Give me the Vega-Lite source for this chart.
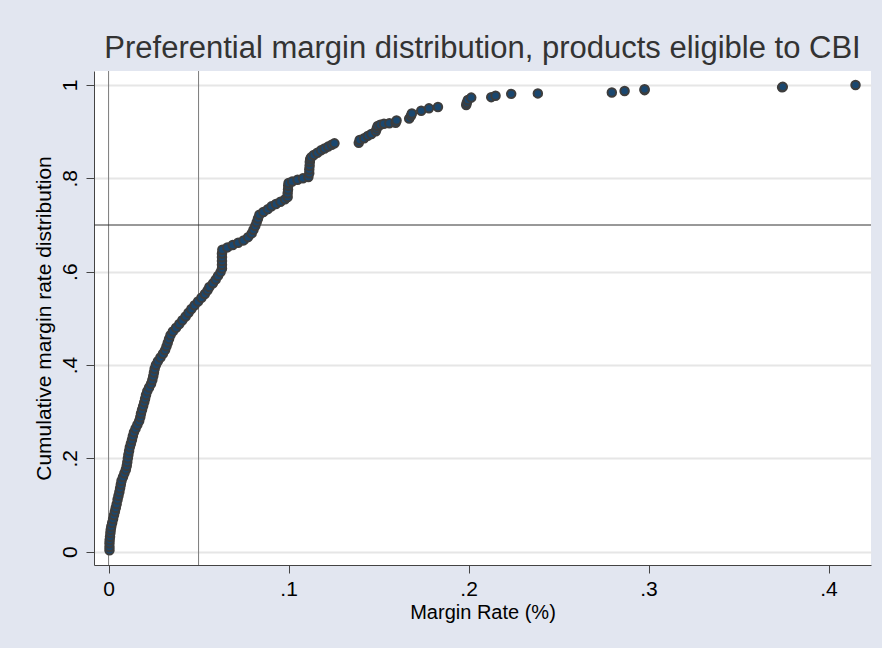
{
  "$schema": "https://vega.github.io/schema/vega-lite/v6.json",
  "autosize": "none",
  "width": 777,
  "height": 494,
  "padding": {"left": 94, "top": 71, "right": 11, "bottom": 83},
  "background": "#e2e6f0",
  "title": {
    "text": "Preferential margin distribution, products eligible to CBI",
    "font": "Liberation Sans",
    "fontSize": 31,
    "fontWeight": "normal",
    "color": "#333333",
    "anchor": "middle",
    "baseline": "alphabetic",
    "offset": -18
  },
  "config": {
    "view": {"fill": "white", "stroke": null},
    "axis": {
      "labelFont": "Liberation Sans",
      "titleFont": "Liberation Sans",
      "labelColor": "#000000",
      "titleColor": "#000000",
      "labelFontSize": 21,
      "titleFontSize": 20,
      "titleFontWeight": "normal",
      "domainColor": "#444444",
      "tickColor": "#444444",
      "tickSize": 8,
      "domainWidth": 1,
      "tickWidth": 1
    }
  },
  "datasets": {
    "cdf": [
      {"margin": 0.0005, "cum": 0.003},
      {"margin": 0.0005, "cum": 0.010},
      {"margin": 0.0005, "cum": 0.018},
      {"margin": 0.0006, "cum": 0.025},
      {"margin": 0.0008, "cum": 0.032},
      {"margin": 0.0010, "cum": 0.040},
      {"margin": 0.0012, "cum": 0.047},
      {"margin": 0.0015, "cum": 0.054},
      {"margin": 0.0020, "cum": 0.062},
      {"margin": 0.0025, "cum": 0.070},
      {"margin": 0.0030, "cum": 0.078},
      {"margin": 0.0035, "cum": 0.086},
      {"margin": 0.0040, "cum": 0.094},
      {"margin": 0.0045, "cum": 0.102},
      {"margin": 0.0050, "cum": 0.112},
      {"margin": 0.0055, "cum": 0.120},
      {"margin": 0.0060, "cum": 0.128},
      {"margin": 0.0064, "cum": 0.136},
      {"margin": 0.0068, "cum": 0.144},
      {"margin": 0.0072, "cum": 0.152},
      {"margin": 0.0080, "cum": 0.160},
      {"margin": 0.0088, "cum": 0.168},
      {"margin": 0.0096, "cum": 0.176},
      {"margin": 0.0101, "cum": 0.184},
      {"margin": 0.0104, "cum": 0.192},
      {"margin": 0.0107, "cum": 0.200},
      {"margin": 0.0110, "cum": 0.208},
      {"margin": 0.0114, "cum": 0.216},
      {"margin": 0.0118, "cum": 0.224},
      {"margin": 0.0124, "cum": 0.232},
      {"margin": 0.0130, "cum": 0.240},
      {"margin": 0.0135, "cum": 0.248},
      {"margin": 0.0141, "cum": 0.256},
      {"margin": 0.0150, "cum": 0.264},
      {"margin": 0.0160, "cum": 0.272},
      {"margin": 0.0170, "cum": 0.280},
      {"margin": 0.0176, "cum": 0.288},
      {"margin": 0.0180, "cum": 0.296},
      {"margin": 0.0186, "cum": 0.304},
      {"margin": 0.0192, "cum": 0.312},
      {"margin": 0.0198, "cum": 0.320},
      {"margin": 0.0203, "cum": 0.328},
      {"margin": 0.0208, "cum": 0.336},
      {"margin": 0.0215, "cum": 0.344},
      {"margin": 0.0225, "cum": 0.352},
      {"margin": 0.0236, "cum": 0.360},
      {"margin": 0.0243, "cum": 0.368},
      {"margin": 0.0248, "cum": 0.376},
      {"margin": 0.0252, "cum": 0.384},
      {"margin": 0.0256, "cum": 0.392},
      {"margin": 0.0263, "cum": 0.400},
      {"margin": 0.0274, "cum": 0.408},
      {"margin": 0.0288, "cum": 0.416},
      {"margin": 0.0302, "cum": 0.424},
      {"margin": 0.0314, "cum": 0.432},
      {"margin": 0.0322, "cum": 0.440},
      {"margin": 0.0329, "cum": 0.448},
      {"margin": 0.0336, "cum": 0.456},
      {"margin": 0.0344, "cum": 0.464},
      {"margin": 0.0357, "cum": 0.472},
      {"margin": 0.0375, "cum": 0.480},
      {"margin": 0.0393, "cum": 0.488},
      {"margin": 0.0410, "cum": 0.496},
      {"margin": 0.0428, "cum": 0.504},
      {"margin": 0.0444, "cum": 0.512},
      {"margin": 0.0460, "cum": 0.520},
      {"margin": 0.0478, "cum": 0.528},
      {"margin": 0.0497, "cum": 0.536},
      {"margin": 0.0516, "cum": 0.544},
      {"margin": 0.0535, "cum": 0.552},
      {"margin": 0.0550, "cum": 0.560},
      {"margin": 0.0560, "cum": 0.567},
      {"margin": 0.0580, "cum": 0.575},
      {"margin": 0.0595, "cum": 0.583},
      {"margin": 0.0608, "cum": 0.591},
      {"margin": 0.0622, "cum": 0.599},
      {"margin": 0.0630, "cum": 0.607},
      {"margin": 0.0630, "cum": 0.615},
      {"margin": 0.0630, "cum": 0.623},
      {"margin": 0.0630, "cum": 0.631},
      {"margin": 0.0630, "cum": 0.639},
      {"margin": 0.0632, "cum": 0.647},
      {"margin": 0.0660, "cum": 0.652},
      {"margin": 0.0690, "cum": 0.657},
      {"margin": 0.0720, "cum": 0.662},
      {"margin": 0.0750, "cum": 0.667},
      {"margin": 0.0775, "cum": 0.674},
      {"margin": 0.0795, "cum": 0.682},
      {"margin": 0.0805, "cum": 0.690},
      {"margin": 0.0815, "cum": 0.698},
      {"margin": 0.0823, "cum": 0.706},
      {"margin": 0.0830, "cum": 0.714},
      {"margin": 0.0838, "cum": 0.722},
      {"margin": 0.0860, "cum": 0.728},
      {"margin": 0.0885, "cum": 0.734},
      {"margin": 0.0905, "cum": 0.740},
      {"margin": 0.0930, "cum": 0.745},
      {"margin": 0.0955, "cum": 0.750},
      {"margin": 0.0980, "cum": 0.755},
      {"margin": 0.0995, "cum": 0.760},
      {"margin": 0.0995, "cum": 0.768},
      {"margin": 0.0997, "cum": 0.776},
      {"margin": 0.0998, "cum": 0.784},
      {"margin": 0.1000, "cum": 0.790},
      {"margin": 0.1020, "cum": 0.793},
      {"margin": 0.1050, "cum": 0.797},
      {"margin": 0.1080, "cum": 0.800},
      {"margin": 0.1110, "cum": 0.803},
      {"margin": 0.1115, "cum": 0.811},
      {"margin": 0.1115, "cum": 0.819},
      {"margin": 0.1117, "cum": 0.827},
      {"margin": 0.1118, "cum": 0.835},
      {"margin": 0.1120, "cum": 0.841},
      {"margin": 0.1125, "cum": 0.845},
      {"margin": 0.1140, "cum": 0.850},
      {"margin": 0.1160, "cum": 0.855},
      {"margin": 0.1180, "cum": 0.860},
      {"margin": 0.1200, "cum": 0.864},
      {"margin": 0.1220, "cum": 0.868},
      {"margin": 0.1240, "cum": 0.872},
      {"margin": 0.1255, "cum": 0.875},
      {"margin": 0.1390, "cum": 0.876},
      {"margin": 0.1395, "cum": 0.882},
      {"margin": 0.1420, "cum": 0.886},
      {"margin": 0.1440, "cum": 0.891},
      {"margin": 0.1460, "cum": 0.895},
      {"margin": 0.1485, "cum": 0.901},
      {"margin": 0.1490, "cum": 0.907},
      {"margin": 0.1495, "cum": 0.912},
      {"margin": 0.1510, "cum": 0.915},
      {"margin": 0.1530, "cum": 0.917},
      {"margin": 0.1560, "cum": 0.918},
      {"margin": 0.1595, "cum": 0.919},
      {"margin": 0.1600, "cum": 0.924},
      {"margin": 0.1670, "cum": 0.928},
      {"margin": 0.1680, "cum": 0.934},
      {"margin": 0.1685, "cum": 0.939},
      {"margin": 0.1737, "cum": 0.945},
      {"margin": 0.1780, "cum": 0.950},
      {"margin": 0.1830, "cum": 0.953},
      {"margin": 0.1987, "cum": 0.957},
      {"margin": 0.1990, "cum": 0.962},
      {"margin": 0.1996, "cum": 0.968},
      {"margin": 0.2015, "cum": 0.973},
      {"margin": 0.2126, "cum": 0.974},
      {"margin": 0.2150, "cum": 0.977},
      {"margin": 0.2237, "cum": 0.981},
      {"margin": 0.2385, "cum": 0.982},
      {"margin": 0.2796, "cum": 0.984},
      {"margin": 0.2867, "cum": 0.987},
      {"margin": 0.2978, "cum": 0.989},
      {"margin": 0.2978, "cum": 0.991},
      {"margin": 0.3742, "cum": 0.995},
      {"margin": 0.3746, "cum": 0.996},
      {"margin": 0.4150, "cum": 1.000}
    ],
    "vlines": [{"at": 0}, {"at": 0.05}],
    "hlines": [{"at": 0.7}]
  },
  "layer": [
    {
      "data": {"name": "vlines"},
      "mark": {"type": "rule", "color": "#7a7a7a", "strokeWidth": 1},
      "encoding": {
        "x": {"field": "at", "type": "quantitative", "scale": {"domain": [-0.0081, 0.4236], "nice": false, "zero": false}}
      }
    },
    {
      "data": {"name": "hlines"},
      "mark": {"type": "rule", "color": "#333333", "strokeWidth": 1},
      "encoding": {
        "y": {"field": "at", "type": "quantitative", "scale": {"domain": [-0.0285, 1.03], "nice": false, "zero": false}}
      }
    },
    {
      "data": {"name": "cdf"},
      "mark": {"type": "point", "filled": true, "fill": "#1a476f", "stroke": "#3d3d3d", "strokeWidth": 2, "size": 72, "opacity": 1},
      "encoding": {
        "x": {
          "field": "margin",
          "type": "quantitative",
          "scale": {"domain": [-0.0081, 0.4236], "nice": false, "zero": false},
          "axis": {
            "title": "Margin Rate (%)",
            "values": [0, 0.1, 0.2, 0.3, 0.4],
            "labelExpr": "datum.value == 0 ? '0' : replace(format(datum.value, '.1f'), '0.', '.')",
            "grid": false,
            "labelPadding": 5,
            "titlePadding": 3
          }
        },
        "y": {
          "field": "cum",
          "type": "quantitative",
          "scale": {"domain": [-0.0285, 1.03], "nice": false, "zero": false},
          "axis": {
            "title": "Cumulative margin rate distribution",
            "titleFontSize": 21,
            "values": [0, 0.2, 0.4, 0.6, 0.8, 1],
            "labelExpr": "datum.value == 0 ? '0' : datum.value == 1 ? '1' : replace(format(datum.value, '.1f'), '0.', '.')",
            "labelAngle": -90,
            "labelAlign": "center",
            "labelBaseline": "bottom",
            "labelPadding": 6,
            "titlePadding": 5,
            "grid": true,
            "gridColor": "#e6e6e6",
            "gridWidth": 2
          }
        }
      }
    }
  ]
}
